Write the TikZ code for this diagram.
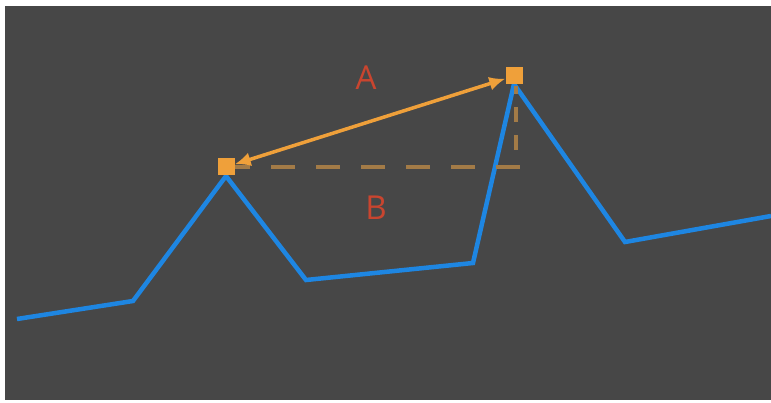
\documentclass[tikz,border=0pt]{standalone}
\usepackage{fontspec}
\setmainfont{Open Sans}
\usetikzlibrary{arrows.meta}
\definecolor{bgdark}{HTML}{474747}
\definecolor{curveblue}{HTML}{1E86E2}
\definecolor{markorange}{HTML}{EFA03A}
\definecolor{dashbrown}{HTML}{A37B47}
\definecolor{labelred}{HTML}{C9452F}
\tikzset{
  curve/.style={curveblue, line width=4.5pt, line join=miter},
  marker/.style={fill=markorange, draw=none, minimum size=17pt, inner sep=0pt},
  distarrow/.style={markorange, line width=3.5pt, {Latex[length=16pt,width=14pt]}-{Latex[length=16pt,width=14pt]}},
  distdash/.style={dashbrown, line width=4pt},
  lbl/.style={text=labelred, font=\fontsize{33}{36}\selectfont, inner sep=0pt}
}
\begin{document}
\begin{tikzpicture}[x=1pt,y=-1pt]
\useasboundingbox (0,0) rectangle (771,403);
\fill[white] (0,0) rectangle (771,403);
\fill[bgdark] (5,6) rectangle (771,400);
% blue curve
\coordinate (c0) at (17,319);
\coordinate (c1) at (133,301);
\coordinate (c2) at (226,176);
\coordinate (c3) at (306,280);
\coordinate (c4) at (473,263);
\coordinate (c5) at (514,84);
\coordinate (c6) at (625,242);
\coordinate (c7) at (771,216);
\draw[curve] (c0) -- (c1) -- (c2) -- (c3) -- (c4) -- (c5) -- (c6) -- (c7);
% dashed guides
\coordinate (hstart) at (226,167);
\coordinate (hend) at (520,167);
\coordinate (vstart) at (516,150);
\coordinate (vend) at (516,86);
\draw[distdash, dash pattern=on 24pt off 21pt] (hstart) -- (hend);
\draw[distdash, dash pattern=on 15pt off 13pt] (vstart) -- (vend);
% markers
\node[marker] (p1) at (226,167) {};
\node[marker] (p2) at (514,76) {};
\draw[distarrow] (p1) -- (p2);
% labels
\node[lbl] (la) at (366,78) {A};
\node[lbl] (lb) at (376,208) {B};
\end{tikzpicture}
\end{document}
